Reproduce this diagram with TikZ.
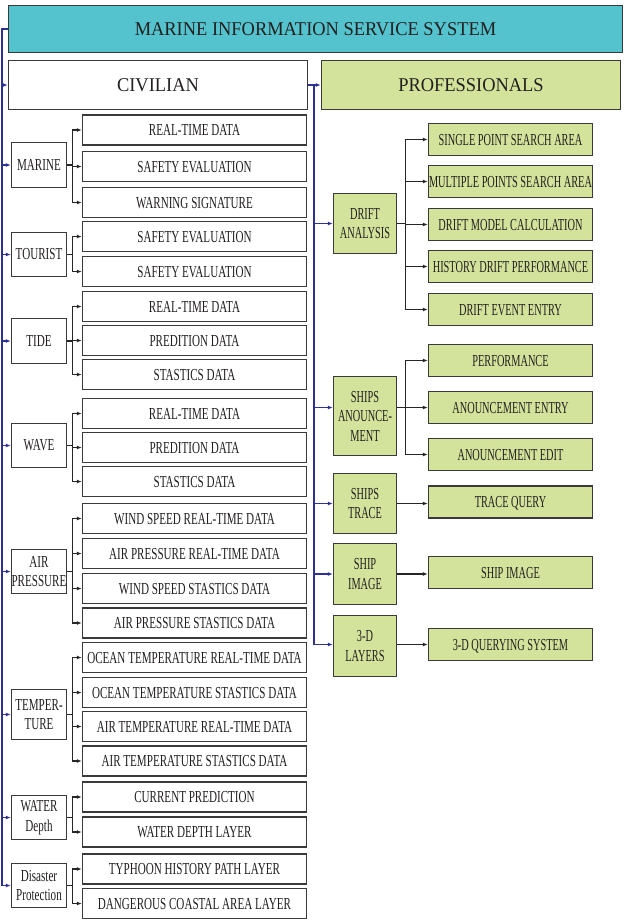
\documentclass[tikz,border=0pt]{standalone}
\usepackage{fontspec}
\setmainfont{Liberation Serif}
\newfontfamily\hdfont[FakeStretch=0.945]{Liberation Serif}
\newfontfamily\lfont[FakeStretch=0.66]{Liberation Serif}
\newfontfamily\pfont[FakeStretch=0.615]{Liberation Serif}
\usetikzlibrary{arrows.meta}
\definecolor{teal1}{RGB}{84,195,206}
\definecolor{green1}{RGB}{211,227,155}
\definecolor{blue1}{RGB}{46,49,146}
\definecolor{bord}{RGB}{58,58,58}
\definecolor{txt}{RGB}{35,31,32}
\tikzset{
  box/.style={draw=bord, line width=1.4pt, inner sep=0pt, align=center, text=txt},
  hdbox/.style={box, font=\hdfont\fontsize{19.5}{22}\selectfont, minimum width=299pt, minimum height=49pt},
  litem/.style={box, fill=white, font=\lfont\fontsize{16.8}{19.5}\selectfont, minimum width=224pt, minimum height=30pt, text height=11.1pt, text depth=0pt},
  lcat/.style={box, fill=white, font=\lfont\fontsize{16.8}{19.5}\selectfont, minimum width=55pt},
  pcat/.style={box, fill=green1, font=\pfont\fontsize{16.8}{19.5}\selectfont, minimum width=63pt},
  pitem/.style={box, fill=green1, font=\pfont\fontsize{16.8}{19.5}\selectfont, minimum width=164pt, minimum height=32pt, text height=11.1pt, text depth=0pt},
  blk/.style={draw=black!85, line width=1.2pt, -{Latex[length=5pt,width=4pt]}},
  bl/.style={draw=blue1, line width=1.2pt},
  blarr/.style={bl, -{Latex[length=5pt,width=4pt]}}
}
\begin{document}
\begin{tikzpicture}[x=1pt,y=-1pt]
\useasboundingbox (0,0) rectangle (624,921);
% header
\node[box, fill=teal1, font=\hdfont\fontsize{19.5}{22}\selectfont, minimum width=614pt, minimum height=46.6pt] (top) at (315.5,29) {MARINE INFORMATION SERVICE SYSTEM};
\node[hdbox, fill=white] (civ) at (158,85) {CIVILIAN};
\node[hdbox, fill=green1] (pro) at (471,85) {PROFESSIONALS};

% left categories
\node[lcat, minimum height=45pt] (mar) at (39,165) {MARINE};
\node[lcat, minimum height=44pt] (tou) at (39,254.5) {TOURIST};
\node[lcat, minimum height=45pt] (tid) at (39,341) {TIDE};
\node[lcat, minimum height=44pt] (wav) at (39,445.5) {WAVE};
\node[lcat, minimum height=44pt] (air) at (39,571.5) {AIR\\PRESSURE};
\node[lcat, minimum height=50pt] (tem) at (39,714.5) {TEMPER-\\TURE};
\node[lcat, minimum height=44pt] (wat) at (39,817.5) {WATER\\Depth};
\node[lcat, minimum height=44pt] (dis) at (39,885.5) {Disaster\\Protection};

% left items
\node[litem] (m1) at (194.5,130) {REAL-TIME DATA};
\node[litem] (m2) at (194.5,166.5) {SAFETY EVALUATION};
\node[litem] (m3) at (194.5,202.5) {WARNING SIGNATURE};
\node[litem] (t1) at (194.5,236.5) {SAFETY EVALUATION};
\node[litem] (t2) at (194.5,271.5) {SAFETY EVALUATION};
\node[litem] (ti1) at (194.5,306.5) {REAL-TIME DATA};
\node[litem] (ti2) at (194.5,340.5) {PREDITION DATA};
\node[litem] (ti3) at (194.5,374.5) {STASTICS DATA};
\node[litem] (w1) at (194.5,413.5) {REAL-TIME DATA};
\node[litem] (w2) at (194.5,447.5) {PREDITION DATA};
\node[litem] (w3) at (194.5,481.5) {STASTICS DATA};
\node[litem] (a1) at (194.5,518.5) {WIND SPEED REAL-TIME DATA};
\node[litem] (a2) at (194.5,553.5) {AIR PRESSURE REAL-TIME DATA};
\node[litem] (a3) at (194.5,588.5) {WIND SPEED STASTICS DATA};
\node[litem] (a4) at (194.5,623) {AIR PRESSURE STASTICS DATA};
\node[litem] (te1) at (194.5,657.5) {OCEAN TEMPERATURE REAL-TIME DATA};
\node[litem] (te2) at (194.5,692.5) {OCEAN TEMPERATURE STASTICS DATA};
\node[litem] (te3) at (194.5,726.5) {AIR TEMPERATURE REAL-TIME DATA};
\node[litem] (te4) at (194.5,761) {AIR TEMPERATURE STASTICS DATA};
\node[litem] (wd1) at (194.5,797) {CURRENT PREDICTION};
\node[litem] (wd2) at (194.5,832) {WATER DEPTH LAYER};
\node[litem] (d1) at (194.5,869) {TYPHOON HISTORY PATH LAYER};
\node[litem] (d2) at (194.5,903.5) {DANGEROUS COASTAL AREA LAYER};

% professional categories
\node[pcat, minimum height=60pt] (dri) at (365,223.5) {DRIFT\\ANALYSIS};
\node[pcat, minimum height=79pt] (ann) at (365,416) {SHIPS\\ANOUNCE-\\MENT};
\node[pcat, minimum height=60pt] (tra) at (365,503.5) {SHIPS\\TRACE};
\node[pcat, minimum height=61pt] (img) at (365,574) {SHIP\\IMAGE};
\node[pcat, minimum height=61pt] (lay) at (365,646) {3-D\\LAYERS};

% professional items
\node[pitem] (p1) at (510.5,139.5) {SINGLE POINT SEARCH AREA};
\node[pitem] (p2) at (510.5,181.5) {MULTIPLE POINTS SEARCH AREA};
\node[pitem] (p3) at (510.5,224.5) {DRIFT MODEL CALCULATION};
\node[pitem] (p4) at (510.5,266.5) {HISTORY DRIFT PERFORMANCE};
\node[pitem] (p5) at (510.5,309.5) {DRIFT EVENT ENTRY};
\node[pitem] (s1) at (510.5,360.5) {PERFORMANCE};
\node[pitem] (s2) at (510.5,407.5) {ANOUNCEMENT ENTRY};
\node[pitem] (s3) at (510.5,454.5) {ANOUNCEMENT EDIT};
\node[pitem] (tq) at (510.5,502) {TRACE QUERY};
\node[pitem] (si) at (510.5,572.5) {SHIP IMAGE};
\node[pitem] (dq) at (510.5,644.5) {3-D QUERYING SYSTEM};

% left trunk (blue)
\coordinate (lt) at (2,29);
\draw[blarr] (top.west) -- (lt) |- (dis.west);
\foreach \n in {civ,mar,tou,tid,wav,air,tem,wat}
  \draw[blarr] (lt |- \n.west) -- (\n.west);

% right trunk (blue)
\coordinate (rt) at (314,85);
\draw[blarr] (civ.east) -- (pro.west);
\draw[blarr] (rt) |- (lay.west |- dq.west);
\draw[blarr] (rt |- dri.west) -- (dri.west);
\draw[blarr] (rt |- s2.west) -- (ann.west |- s2.west);
\draw[blarr] (rt |- tra.west) -- (tra.west);
\draw[blarr] (rt |- img.west) -- (img.west);

% left brackets
\foreach \i in {m1,m2,m3} \draw[blk] (mar.east) -- ++(5,0) |- (\i.west);
\foreach \i in {t1,t2} \draw[blk] (tou.east) -- ++(5,0) |- (\i.west);
\foreach \i in {ti1,ti2,ti3} \draw[blk] (tid.east) -- ++(5,0) |- (\i.west);
\foreach \i in {w1,w2,w3} \draw[blk] (wav.east) -- ++(5,0) |- (\i.west);
\foreach \i in {a1,a2,a3,a4} \draw[blk] (air.east) -- ++(5,0) |- (\i.west);
\foreach \i in {te1,te2,te3,te4} \draw[blk] (tem.east) -- ++(5,0) |- (\i.west);
\foreach \i in {wd1,wd2} \draw[blk] (wat.east) -- ++(5,0) |- (\i.west);
\foreach \i in {d1,d2} \draw[blk] (dis.east) -- ++(5,0) |- (\i.west);

% professional brackets
\foreach \i in {p1,p2,p3,p4,p5} \draw[blk] (dri.east) -- ++(8,0) |- (\i.west);
\foreach \i in {s1,s2,s3} \draw[blk] (ann.east |- s2.west) -- ++(8,0) |- (\i.west);
\draw[blk] (tra.east) -- (tra.east -| tq.west);
\draw[blk] (img.east) -- (img.east -| si.west);
\draw[blk] (lay.east |- dq.west) -- (dq.west);
\end{tikzpicture}
\end{document}
